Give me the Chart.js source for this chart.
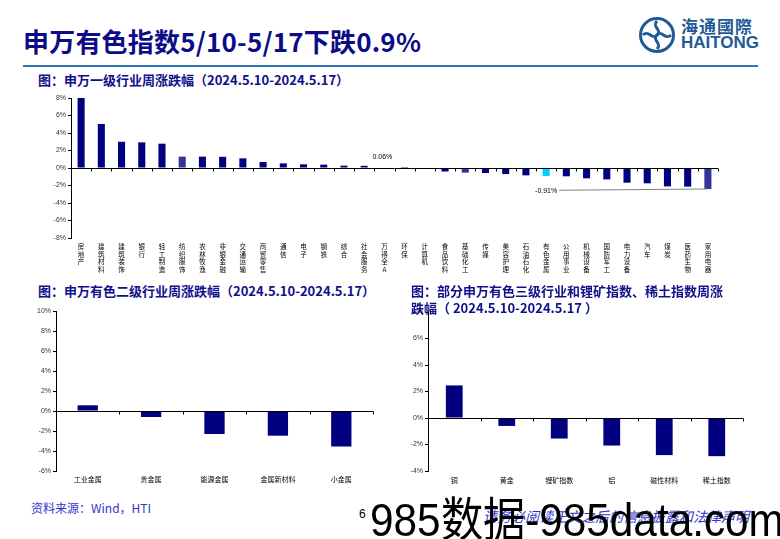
<!DOCTYPE html>
<html lang="zh-CN">
<head>
<meta charset="UTF-8">
<title>申万有色指数</title>
<script src="https://cdn.jsdelivr.net/npm/chart.js"></script>
<style>
  body { margin: 0; background: #fff; }
  #page { position: relative; width: 780px; height: 539px; overflow: hidden; font-family: "Noto Sans CJK SC", sans-serif; }
  .abs { position: absolute; white-space: nowrap; }
  .title { left: 23px; top: 22px; font-size: 26px; font-weight: bold; color: #0c0c86; letter-spacing: 0.2px; }
  .rule { left: 23px; top: 65px; width: 735px; height: 2px; background: #2e75b6; }
  .sub { font-size: 13px; font-weight: bold; color: #10108a; line-height: 17px; }
  .box { position: absolute; }
</style>
</head>
<body>
<div id="page">
  <div class="abs title">申万有色指数5/10-5/17下跌0.9%</div>
  <!-- logo -->
  <svg class="abs" style="left:638px;top:16px" width="38" height="38" viewBox="0 0 38 38">
    <circle cx="19" cy="19" r="16.5" fill="none" stroke="#1d5a97" stroke-width="3"/>
    <path d="M19 5 C13 11 25 14 19 19 C13 24 25 27 19 33" fill="none" stroke="#1d5a97" stroke-width="3"/>
    <path d="M5 19 C11 13 14 25 19 19 C24 13 27 25 33 19" fill="none" stroke="#1d5a97" stroke-width="3"/>
  </svg>
  <div class="abs" style="left:681px;top:13px;font-size:17px;font-weight:bold;color:#1d5a97;letter-spacing:1px">海通國際</div>
  <div class="abs" style="left:681px;top:33px;font-size:17px;font-weight:bold;color:#1d5a97;font-family:'Liberation Sans',sans-serif">HAITONG</div>
  <div class="abs rule"></div>

  <div class="abs sub" style="left:38px;top:71px">图：申万一级行业周涨跌幅（2024.5.10-2024.5.17）</div>
  <div class="box" style="left:20px;top:88px;width:712px;height:186px"><canvas id="c1"></canvas></div>

  <div class="box" style="left:20px;top:303px;width:360px;height:185px"><canvas id="c2"></canvas></div>
  <div class="box" style="left:395px;top:304px;width:355px;height:184px"><canvas id="c3"></canvas></div>
  <div class="abs sub" style="left:38px;top:282px">图：申万有色二级行业周涨跌幅（2024.5.10-2024.5.17）</div>
  <div class="abs sub" style="left:411px;top:282px">图：部分申万有色三级行业和锂矿指数、稀土指数周涨<br>跌幅（ 2024.5.10-2024.5.17 ）</div>

  <div class="abs" style="left:31px;top:499px;font-size:12px;color:#3333cc">资料来源：Wind，HTI</div>
  <div class="abs" style="left:359px;top:507px;font-size:12px;color:#000;font-family:'Liberation Sans',sans-serif">6</div>
  <div class="abs" style="left:483px;top:506px;font-size:14px;color:#3333cc;font-style:italic">请务必阅读正文之后的信息披露和法律声明</div>
  <div class="abs" style="left:370px;top:481px;font-size:47px;color:#000;font-family:'Liberation Sans',sans-serif;transform:scaleX(0.9);transform-origin:left top">985数据-985data.com</div>
</div>

<script>
  // 申万一级行业 周涨跌幅 (%)
  const industries = ['房地产', '建筑材料', '建筑装饰', '银行', '轻工制造', '纺织服饰', '农林牧渔', '非银金融',
    '交通运输', '商贸零售', '通信', '电子', '钢铁', '综合', '社会服务', '万得全A', '环保', '计算机', '食品饮料',
    '基础化工', '传媒', '美容护理', '石油石化', '有色金属', '公用事业', '机械设备', '国防军工', '电力设备', '汽车',
    '煤炭', '医药生物', '家用电器'];
  const industryChg = [8.0, 5.03, 3.0, 2.93, 2.78, 1.3, 1.3, 1.28, 1.1, 0.69, 0.53, 0.42, 0.38, 0.27, 0.25, 0.06,
    0.01, -0.02, -0.4, -0.53, -0.57, -0.69, -0.84, -0.91, -0.95, -1.18, -1.3, -1.68, -1.75, -2.1, -2.13, -2.4];

  // 申万有色二级行业
  const subSectors = ['工业金属', '贵金属', '能源金属', '金属新材料', '小金属'];
  const subSectorChg = [0.57, -0.6, -2.3, -2.47, -3.55];

  // 三级行业 + 锂矿 / 稀土指数
  const thirdSectors = ['铜', '黄金', '锂矿指数', '铝', '磁性材料', '稀土指数'];
  const thirdSectorChg = [2.46, -0.6, -1.55, -2.08, -2.8, -2.88];

  const yTicks1 = [-8, 8];
  const yTicks2 = [-6, 10];
  const yTicks3 = [-4, 8];

  const NAVY = '#000080';
  function industryColor(name) {
    if (name === '有色金属') return '#00ccff';
    if (name === '万得全A') return '#ccf2ff';
    if (name === '纺织服饰' || name === '基础化工' || name === '家用电器') return '#333399';
    return NAVY;
  }

  // 零轴 + 分类刻度
  const zeroAxis = {
    id: 'zeroAxis',
    afterDatasetsDraw(chart) {
      const { ctx, chartArea, scales } = chart;
      const y0 = Math.round(scales.y.getPixelForValue(0)) + 0.5;
      const n = chart.data.labels.length;
      const step = (chartArea.right - chartArea.left) / n;
      ctx.save();
      ctx.strokeStyle = '#000';
      ctx.lineWidth = 1;
      ctx.beginPath();
      ctx.moveTo(chartArea.left, y0);
      ctx.lineTo(chartArea.right, y0);
      for (let i = 1; i <= n; i++) {
        const x = Math.round(chartArea.left + step * i) + 0.5;
        ctx.moveTo(x, y0);
        ctx.lineTo(x, y0 + 3);
      }
      ctx.stroke();
      ctx.restore();
    }
  };

  // 图一的数据标注
  const notes = {
    id: 'notes',
    afterDatasetsDraw(chart, args, opts) {
      if (!opts.show) return;
      const { ctx, scales } = chart;
      ctx.save();
      ctx.font = '7px "Liberation Sans", sans-serif';
      ctx.fillStyle = '#000';
      ctx.textAlign = 'center';
      ctx.textBaseline = 'middle';
      const iA = industries.indexOf('万得全A');
      ctx.fillText(industryChg[iA].toFixed(2) + '%', scales.x.getPixelForValue(iA) - 2, scales.y.getPixelForValue(1.3));
      const iN = industries.indexOf('有色金属');
      const xN = scales.x.getPixelForValue(iN);
      const yN = scales.y.getPixelForValue(-2.6);
      ctx.fillText(industryChg[iN].toFixed(2) + '%', xN, yN);
      const last = industries.length - 1;
      ctx.strokeStyle = '#808080';
      ctx.beginPath();
      ctx.moveTo(xN + 13, yN - 0.5);
      ctx.lineTo(scales.x.getPixelForValue(last), scales.y.getPixelForValue(industryChg[last]));
      ctx.stroke();
      ctx.restore();
    }
  };

  function makeChart(id, labels, values, colors, range, cfg) {
    return new Chart(document.getElementById(id), {
      type: 'bar',
      data: {
        labels: labels,
        datasets: [{ data: values, backgroundColor: colors, barPercentage: cfg.bar, categoryPercentage: 1 }]
      },
      options: {
        responsive: true,
        maintainAspectRatio: false,
        animation: false,
        layout: { padding: { top: cfg.top, right: cfg.right, left: 0, bottom: 0 } },
        plugins: { legend: { display: false }, tooltip: { enabled: false }, notes: { show: !!cfg.notes } },
        scales: {
          x: {
            grid: { display: false, drawTicks: false },
            border: { display: false },
            ticks: {
              padding: cfg.xPad, maxRotation: 0, autoSkip: false, color: '#000',
              font: { family: '"Noto Sans CJK SC", sans-serif', size: cfg.xFont, lineHeight: cfg.xLine }
            },
            afterFit(s) { s.height = cfg.xh; }
          },
          y: {
            min: range[0], max: range[1],
            grid: { drawOnChartArea: false, drawTicks: true, tickLength: 3, color: '#000' },
            border: { display: true, color: '#000' },
            ticks: {
              stepSize: 2, padding: 2, color: '#333',
              font: { family: '"Liberation Sans", sans-serif', size: 7 },
              callback: v => v + '%'
            },
            afterFit(s) { s.width = cfg.yw; }
          }
        }
      },
      plugins: [zeroAxis, notes]
    });
  }

  makeChart('c1', industries.map(s => s.split('')), industryChg, industries.map(industryColor), yTicks1,
    { bar: 0.35, top: 10, right: 14, xh: 36, yw: 51, xPad: 5, xFont: 6.5, xLine: 1.15, notes: true });
  makeChart('c2', subSectors, subSectorChg, NAVY, yTicks2,
    { bar: 0.32, top: 8, right: 7, xh: 17, yw: 36, xPad: 4, xFont: 7, xLine: 1.1 });
  makeChart('c3', thirdSectors, thirdSectorChg, NAVY, yTicks3,
    { bar: 0.32, top: 8, right: 7, xh: 17, yw: 33, xPad: 5, xFont: 7, xLine: 1.1 });
</script>
</body>
</html>
